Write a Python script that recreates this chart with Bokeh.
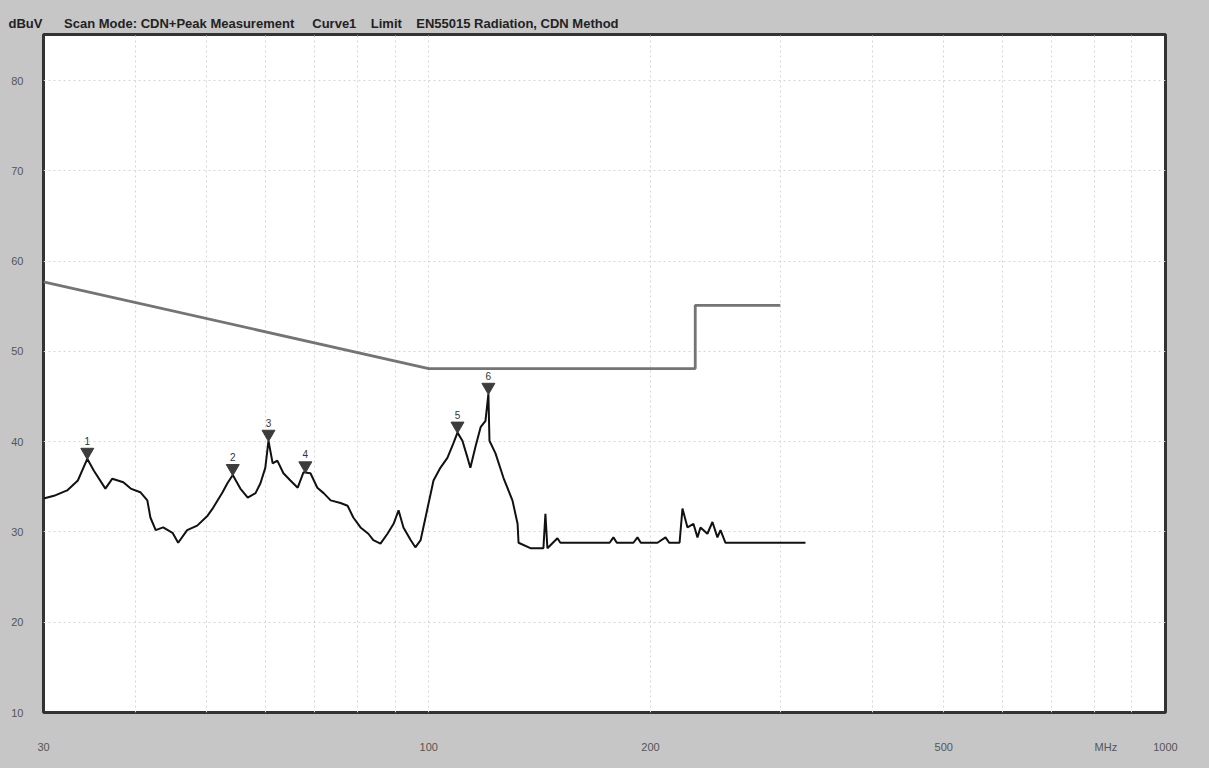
from bokeh.plotting import figure
from bokeh.models import FixedTicker, Range1d
from bokeh.core.properties import value
from bokeh.embed import file_html
from bokeh.resources import INLINE

# ---------------- data ----------------
freq_mhz = [30.0, 31.0, 32.3, 33.4, 34.4, 35.1, 36.4, 37.2, 38.5, 39.4, 40.6, 41.5, 41.9, 42.6,
            43.6, 44.9, 45.7, 47.0, 48.5, 50.1, 51.0, 52.5, 53.3, 54.2, 55.5, 56.8, 58.2, 59.1,
            60.0, 60.6, 61.4, 62.3, 63.5, 64.9, 66.4, 67.6, 69.1, 70.6, 72.0, 73.6, 75.9, 77.6,
            79.0, 80.8, 82.8, 84.1, 86.0, 87.9, 89.6, 91.0, 92.4, 94.5, 95.9, 97.5, 99.0, 101.5,
            103.7, 106.0, 108.0, 109.4, 111.1, 112.9, 113.9, 115.7, 117.6, 119.4, 120.5, 120.9,
            123.2, 126.3, 129.9, 132.0, 132.4, 137.4, 143.1, 144.0, 144.9, 149.5, 150.9, 176.0,
            178.1, 180.0, 189.6, 192.0, 194.0, 204.4, 209.6, 212.0, 219.0, 221.0, 224.5, 228.7,
            231.6, 233.8, 238.9, 242.7, 246.5, 248.9, 252.8, 324.6]
level_dbuv = [33.7, 34.0, 34.6, 35.7, 38.1, 36.8, 34.8, 35.9, 35.5, 34.8, 34.4, 33.5, 31.6, 30.2,
              30.5, 29.9, 28.8, 30.2, 30.7, 31.8, 32.7, 34.4, 35.4, 36.3, 34.8, 33.8, 34.3, 35.4,
              37.1, 40.1, 37.6, 37.9, 36.5, 35.7, 34.9, 36.6, 36.5, 34.9, 34.3, 33.5, 33.2, 32.9,
              31.6, 30.5, 29.8, 29.1, 28.7, 29.8, 30.9, 32.4, 30.5, 29.1, 28.3, 29.1, 31.6, 35.7,
              37.1, 38.2, 39.8, 41.0, 40.1, 38.2, 37.1, 39.4, 41.6, 42.3, 45.3, 40.1,
              38.7, 36.0, 33.5, 30.9, 28.8, 28.2, 28.2, 32.0, 28.2, 29.3, 28.8, 28.8,
              29.4, 28.8, 28.8, 29.4, 28.8, 28.8, 29.4, 28.8, 28.8, 32.6, 30.5, 30.9,
              29.4, 30.5, 29.8, 31.1, 29.4, 30.2, 28.8, 28.8]

limit_freq = [30, 100, 230, 230, 300]
limit_level = [57.7, 48.1, 48.1, 55.1, 55.1]

marker_freq = [34.4, 54.2, 60.6, 68.0, 109.4, 120.5]
marker_level = [38.1, 36.3, 40.1, 36.6, 41.0, 45.3]
marker_id = ["1", "2", "3", "4", "5", "6"]

y_ticks = [10, 20, 30, 40, 50, 60, 70, 80]
x_ticks = [30, 100, 200, 500, 830, 1000]
x_tick_labels = {30: "30", 100: "100", 200: "200", 500: "500", 830: "MHz", 1000: "1000"}
x_grid = [40, 50, 60, 70, 80, 90, 100, 200, 300, 400, 500, 600, 700, 800, 900]

unit_text = "dBuV"
title_text = "Scan Mode: CDN+Peak Measurement     Curve1    Limit    EN55015 Radiation, CDN Method"

# ---------------- figure ----------------
BG = "#c6c6c6"
p = figure(x_axis_type="log", x_range=Range1d(30, 1000), y_range=Range1d(10, 85.1),
           frame_width=1122, frame_height=678,
           min_border_left=43, min_border_right=44, min_border_top=34, min_border_bottom=56,
           output_backend="svg", toolbar_location=None,
           background_fill_color="white", border_fill_color=BG)

p.outline_line_color = "#333333"
p.outline_line_width = 3

# title (unit + heading in one line)
NB = "\u00a0"
p.title.text = unit_text + NB * 6 + title_text.replace(" ", NB)
p.title.align = "left"
p.title.offset = -35
p.title.text_font = "Liberation Sans"
p.title.text_font_size = "13px"
p.title.text_font_style = "bold"
p.title.text_color = "#222222"
p.title.standoff = 7

# axes
p.xaxis.ticker = FixedTicker(ticks=x_ticks)
p.yaxis.ticker = FixedTicker(ticks=y_ticks)
p.xaxis.major_label_overrides = x_tick_labels
for ax in (p.xaxis[0], p.yaxis[0]):
    ax.axis_line_color = None
    ax.major_tick_line_color = None
    ax.minor_tick_line_color = None
    ax.major_label_text_color = "#555555"
    ax.major_label_text_font = "Liberation Sans"
    ax.major_label_text_font_size = "11px"
p.yaxis.major_label_standoff = 14
p.xaxis.major_label_standoff = 22

# grids
p.xgrid.ticker = FixedTicker(ticks=x_grid)
p.xgrid.grid_line_color = "#d6d6d6"
p.xgrid.grid_line_dash = "2 3"
p.ygrid.ticker = FixedTicker(ticks=y_ticks)
p.ygrid.grid_line_color = "#d6d6d6"
p.ygrid.grid_line_dash = "2 3"

# limit line
p.line(limit_freq, limit_level, line_color="#747474", line_width=2.8)

# measurement trace
p.line(freq_mhz, level_dbuv, line_color="#111111", line_width=2.0)

# peak markers
tri_y = [v + 0.75 for v in marker_level]
p.scatter(marker_freq, tri_y, marker="inverted_triangle", size=13,
          fill_color="#3c3c3c", line_color="#3c3c3c")
p.text(marker_freq, marker_level, text=marker_id, text_font=value("Liberation Sans"),
       text_font_size="10px", text_color="#333333", text_align="center",
       text_baseline="bottom", y_offset=-14)

html = file_html(p, INLINE)
html = html.replace("</head>", "<style>html,body{background:%s;}</style></head>" % BG, 1)
open("out.html", "w").write(html)
